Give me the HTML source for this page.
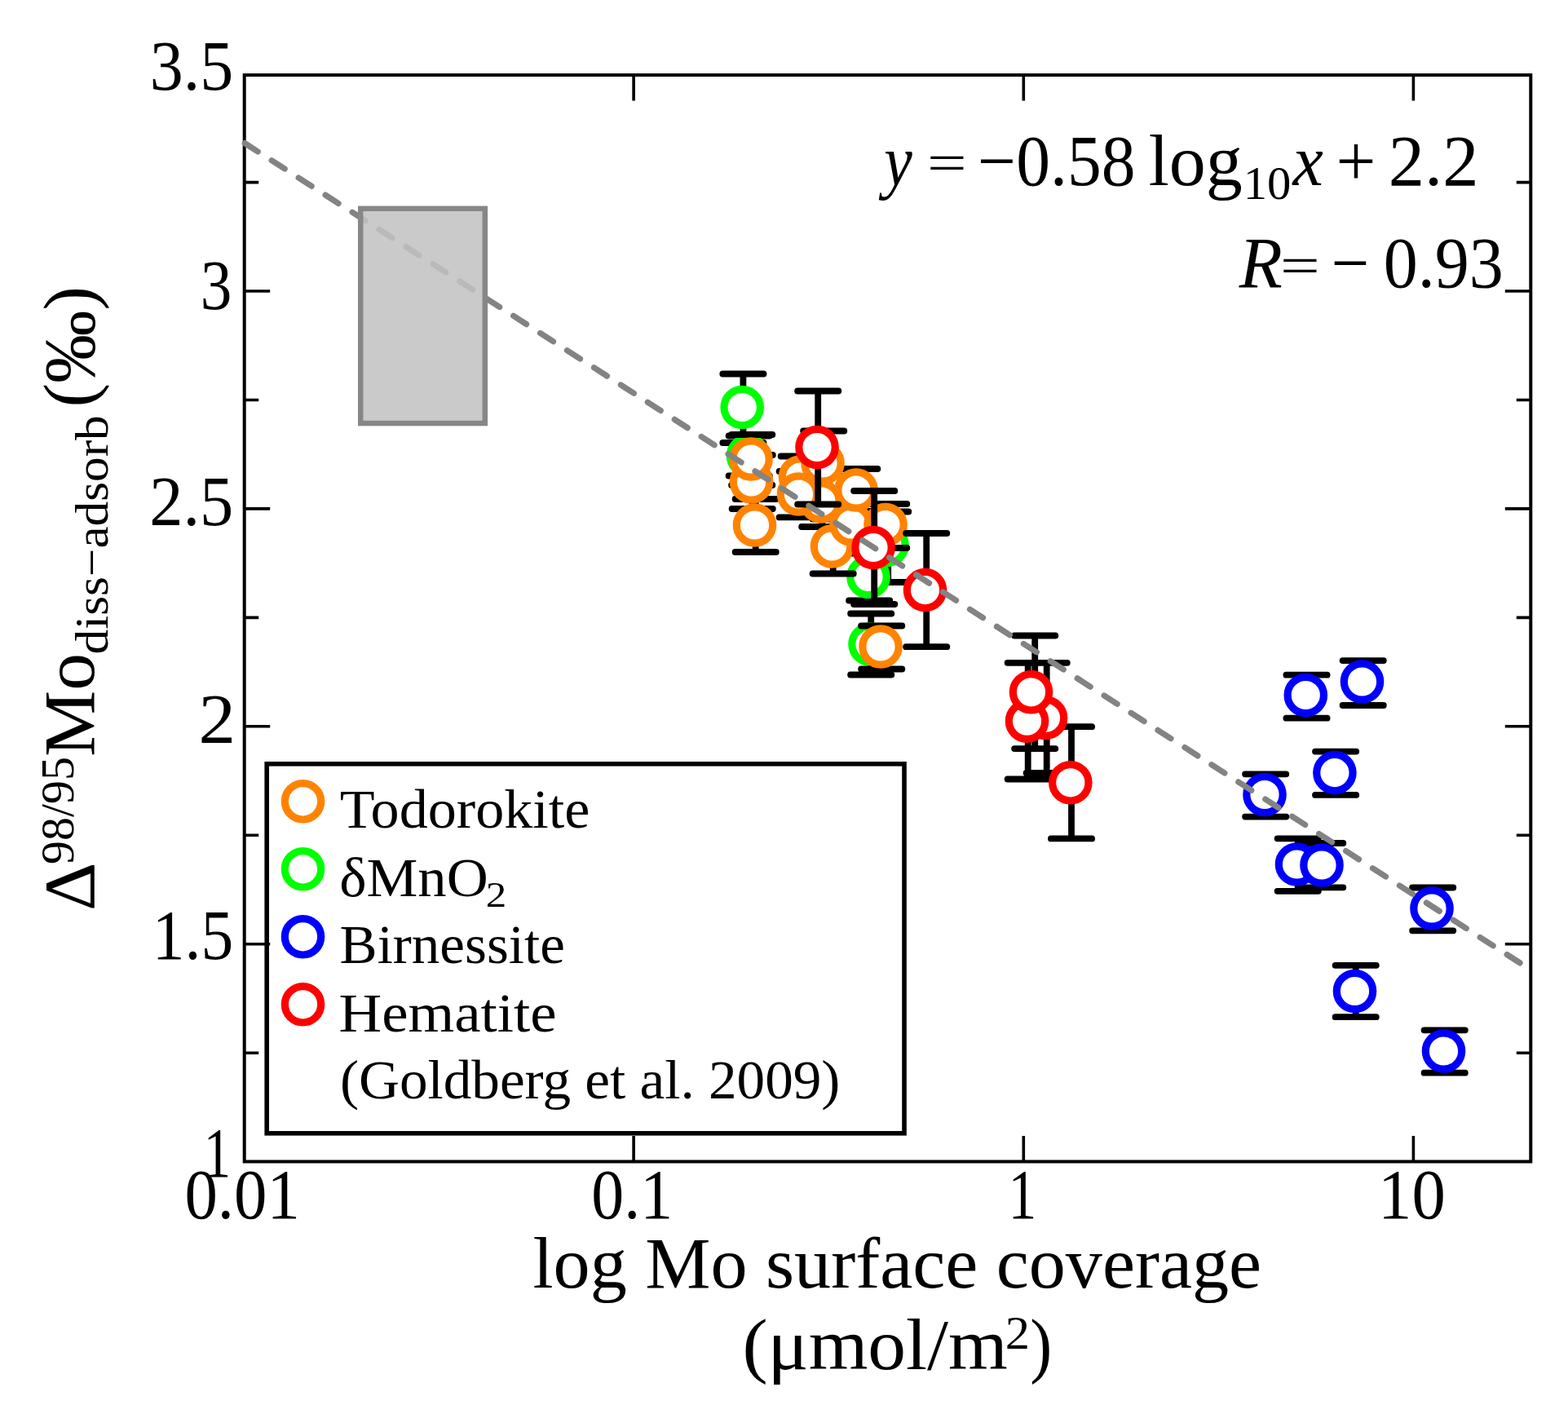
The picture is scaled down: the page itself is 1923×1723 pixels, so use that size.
<!DOCTYPE html>
<html><head><meta charset="utf-8"><title>Mo isotope fractionation vs surface coverage</title>
<style>html,body{margin:0;padding:0;background:#fff;width:1923px;height:1723px;overflow:hidden}svg{display:block}</style>
</head><body>
<svg width="1923" height="1723" viewBox="0 0 1923 1723">
<rect width="1923" height="1723" fill="#fff"/>
<path d="M299.7 1157.7H331.2M1877.3 1157.7H1845.8M299.7 890.8H331.2M1877.3 890.8H1845.8M299.7 623.9H331.2M1877.3 623.9H1845.8M299.7 357.0H331.2M1877.3 357.0H1845.8M299.7 1291.2H317.2M1877.3 1291.2H1859.8M299.7 1024.2H317.2M1877.3 1024.2H1859.8M299.7 757.4H317.2M1877.3 757.4H1859.8M299.7 490.5H317.2M1877.3 490.5H1859.8M299.7 223.6H317.2M1877.3 223.6H1859.8M777.1 1424.5V1393.0M777.1 92.0V123.5M1255.3 1424.5V1393.0M1255.3 92.0V123.5M1733.4 1424.5V1393.0M1733.4 92.0V123.5" stroke="#000" stroke-width="3.6" fill="none"/>
<rect x="299.7" y="92.0" width="1577.6" height="1332.5" fill="none" stroke="#000" stroke-width="4"/>
<rect x="327.2" y="936.8" width="781.8" height="453" fill="none" stroke="#000" stroke-width="5.6"/>
<g id="data">
<path d="M918.7 534.5V583.5M893.6 534.5H943.8M893.6 583.5H943.8M911.4 458.5V543.0M886.3 458.5H936.5M886.3 543.0H936.5M1089.2 627.5V714.0M1064.1 627.5H1114.3M1064.1 714.0H1114.3M1066.2 678.5V736.5M1041.1 678.5H1091.3M1041.1 736.5H1091.3M1068.2 752.5V827.5M1043.1 752.5H1093.3M1043.1 827.5H1093.3" stroke="#000" stroke-width="7.8" stroke-linecap="round" fill="none"/>
<circle cx="917.5" cy="559.0" r="22.2" fill="#fff" stroke="#00ff00" stroke-width="9.2"/>
<circle cx="910.2" cy="499.5" r="22.2" fill="#fff" stroke="#00ff00" stroke-width="9.2"/>
<circle cx="1088.0" cy="668.5" r="22.2" fill="#fff" stroke="#00ff00" stroke-width="9.2"/>
<circle cx="1065.0" cy="707.5" r="22.2" fill="#fff" stroke="#00ff00" stroke-width="9.2"/>
<circle cx="1067.0" cy="790.0" r="22.2" fill="#fff" stroke="#00ff00" stroke-width="9.2"/>
<path d="M1021.7 636.5V703.5M996.6 636.5H1046.8M996.6 703.5H1046.8M1045.2 618.0V668.0M1020.1 618.0H1070.3M1020.1 668.0H1070.3M1008.2 584.0V646.0M983.1 584.0H1033.3M983.1 646.0H1033.3M982.7 559.5V610.5M957.6 559.5H1007.8M957.6 610.5H1007.8M1010.2 528.5V608.0M985.1 528.5H1035.3M985.1 608.0H1035.3M980.7 578.0V634.4M955.6 578.0H1005.8M955.6 634.4H1005.8M1051.2 575.0V627.0M1026.1 575.0H1076.3M1026.1 627.0H1076.3M1087.2 618.0V672.0M1062.1 618.0H1112.3M1062.1 672.0H1112.3M922.7 558.0V624.0M897.6 558.0H947.8M897.6 624.0H947.8M922.2 533.0V595.0M897.1 533.0H947.3M897.1 595.0H947.3M926.7 612.0V677.0M901.6 612.0H951.8M901.6 677.0H951.8M1081.2 767.5V820.5M1056.1 767.5H1106.3M1056.1 820.5H1106.3" stroke="#000" stroke-width="7.8" stroke-linecap="round" fill="none"/>
<circle cx="1020.5" cy="670.0" r="22.2" fill="#fff" stroke="#ff8300" stroke-width="9.2"/>
<circle cx="1044.0" cy="643.0" r="22.2" fill="#fff" stroke="#ff8300" stroke-width="9.2"/>
<circle cx="1007.0" cy="615.0" r="22.2" fill="#fff" stroke="#ff8300" stroke-width="9.2"/>
<circle cx="981.5" cy="585.0" r="22.2" fill="#fff" stroke="#ff8300" stroke-width="9.2"/>
<circle cx="1009.0" cy="568.0" r="22.2" fill="#fff" stroke="#ff8300" stroke-width="9.2"/>
<circle cx="979.5" cy="606.0" r="22.2" fill="#fff" stroke="#ff8300" stroke-width="9.2"/>
<circle cx="1050.0" cy="601.0" r="22.2" fill="#fff" stroke="#ff8300" stroke-width="9.2"/>
<circle cx="1086.0" cy="643.5" r="22.2" fill="#fff" stroke="#ff8300" stroke-width="9.2"/>
<circle cx="921.5" cy="591.0" r="22.2" fill="#fff" stroke="#ff8300" stroke-width="9.2"/>
<circle cx="921.0" cy="563.0" r="22.2" fill="#fff" stroke="#ff8300" stroke-width="9.2"/>
<circle cx="925.5" cy="644.0" r="22.2" fill="#fff" stroke="#ff8300" stroke-width="9.2"/>
<circle cx="1080.0" cy="793.0" r="22.2" fill="#fff" stroke="#ff8300" stroke-width="9.2"/>
<path d="M1552.2 949.3V1001.6M1527.1 949.3H1577.3M1527.1 1001.6H1577.3M1602.5 827.7V880.7M1577.4 827.7H1627.6M1577.4 880.7H1627.6M1671.7 810.1V865.0M1646.6 810.1H1696.8M1646.6 865.0H1696.8M1638.1 921.6V974.9M1613.0 921.6H1663.2M1613.0 974.9H1663.2M1591.7 1028.3V1092.8M1566.6 1028.3H1616.8M1566.6 1092.8H1616.8M1622.2 1034.0V1088.3M1597.1 1034.0H1647.3M1597.1 1088.3H1647.3M1662.7 1183.8V1247.2M1637.6 1183.8H1687.8M1637.6 1247.2H1687.8M1757.2 1088.5V1141.3M1732.1 1088.5H1782.3M1732.1 1141.3H1782.3M1771.7 1263.3V1315.7M1746.6 1263.3H1796.8M1746.6 1315.7H1796.8" stroke="#000" stroke-width="7.8" stroke-linecap="round" fill="none"/>
<circle cx="1551.0" cy="974.5" r="22.2" fill="#fff" stroke="#0000ff" stroke-width="9.2"/>
<circle cx="1601.3" cy="852.5" r="22.2" fill="#fff" stroke="#0000ff" stroke-width="9.2"/>
<circle cx="1670.5" cy="836.0" r="22.2" fill="#fff" stroke="#0000ff" stroke-width="9.2"/>
<circle cx="1636.9" cy="947.6" r="22.2" fill="#fff" stroke="#0000ff" stroke-width="9.2"/>
<circle cx="1590.5" cy="1060.0" r="22.2" fill="#fff" stroke="#0000ff" stroke-width="9.2"/>
<circle cx="1621.0" cy="1061.0" r="22.2" fill="#fff" stroke="#0000ff" stroke-width="9.2"/>
<circle cx="1661.5" cy="1215.5" r="22.2" fill="#fff" stroke="#0000ff" stroke-width="9.2"/>
<circle cx="1756.0" cy="1114.0" r="22.2" fill="#fff" stroke="#0000ff" stroke-width="9.2"/>
<circle cx="1770.5" cy="1289.0" r="22.2" fill="#fff" stroke="#0000ff" stroke-width="9.2"/>
<path d="M1003.2 479.5V618.5M978.1 479.5H1028.3M978.1 618.5H1028.3M1072.2 602.0V741.0M1047.1 602.0H1097.3M1047.1 741.0H1097.3M1136.2 654.0V793.2M1111.1 654.0H1161.3M1111.1 793.2H1161.3M1314.0 891.2V1028.4M1288.9 891.2H1339.1M1288.9 1028.4H1339.1M1283.7 812.8V948.0M1258.6 812.8H1308.8M1258.6 948.0H1308.8M1260.7 812.8V955.5M1235.6 812.8H1285.8M1235.6 955.5H1285.8M1269.2 779.5V918.1M1244.1 779.5H1294.3M1244.1 918.1H1294.3" stroke="#000" stroke-width="7.8" stroke-linecap="round" fill="none"/>
<circle cx="1002.0" cy="548.5" r="22.2" fill="#fff" stroke="#ff0000" stroke-width="9.2"/>
<circle cx="1071.0" cy="671.5" r="22.2" fill="#fff" stroke="#ff0000" stroke-width="9.2"/>
<circle cx="1134.5" cy="723.6" r="22.2" fill="#fff" stroke="#ff0000" stroke-width="9.2"/>
<circle cx="1312.8" cy="959.8" r="22.2" fill="#fff" stroke="#ff0000" stroke-width="9.2"/>
<circle cx="1282.5" cy="880.4" r="22.2" fill="#fff" stroke="#ff0000" stroke-width="9.2"/>
<circle cx="1259.5" cy="884.2" r="22.2" fill="#fff" stroke="#ff0000" stroke-width="9.2"/>
<circle cx="1264.5" cy="848.8" r="22.2" fill="#fff" stroke="#ff0000" stroke-width="9.2"/>
</g>
<line x1="296.5" y1="173.2" x2="1880" y2="1191.1" stroke="#838383" stroke-width="7.2" stroke-linecap="round" stroke-dasharray="19 20.15" stroke-dashoffset="-4.5"/>
<rect x="442.2" y="255.8" width="152.6" height="263.3" fill="rgb(194,194,194)" fill-opacity="0.87" stroke="#878787" stroke-width="6.5"/>
<g id="legendmarks" fill="#fff" stroke-width="9.2">
<circle cx="371.5" cy="982.8" r="22.2" stroke="#ff8300"/>
<circle cx="371.5" cy="1065.8" r="22.2" stroke="#00ff00"/>
<circle cx="371.5" cy="1148.8" r="22.2" stroke="#0000ff"/>
<circle cx="371.5" cy="1231.8" r="22.2" stroke="#ff0000"/>
</g>
<g font-family="'Liberation Serif', serif" fill="#000">
<text x="183.73" y="110.40" font-size="87" textLength="102.50" lengthAdjust="spacingAndGlyphs">3.5</text>
<text x="245.74" y="378.60" font-size="87" textLength="38.67" lengthAdjust="spacingAndGlyphs">3</text>
<text x="183.21" y="644.20" font-size="87" textLength="103.04" lengthAdjust="spacingAndGlyphs">2.5</text>
<text x="243.62" y="911.10" font-size="87" textLength="45.49" lengthAdjust="spacingAndGlyphs">2</text>
<text x="186.79" y="1176.10" font-size="87" textLength="99.33" lengthAdjust="spacingAndGlyphs">1.5</text>
<text x="249.87" y="1443.40" font-size="87" textLength="33.35" lengthAdjust="spacingAndGlyphs">1</text>
<text x="226.41" y="1494.00" font-size="87" textLength="141.47" lengthAdjust="spacingAndGlyphs">0.01</text>
<text x="725.25" y="1494.00" font-size="87" textLength="99.81" lengthAdjust="spacingAndGlyphs">0.1</text>
<text x="1236.40" y="1494.00" font-size="87" textLength="34.80" lengthAdjust="spacingAndGlyphs">1</text>
<text x="1690.09" y="1494.00" font-size="87" textLength="82.76" lengthAdjust="spacingAndGlyphs">10</text>
<text x="653.57" y="1579.20" font-size="89" textLength="893.45" lengthAdjust="spacingAndGlyphs">log Mo surface coverage</text>
<text x="910.40" y="1678.60" font-size="89" textLength="325.36" lengthAdjust="spacingAndGlyphs">(μmol/m</text>
<text x="1232.82" y="1654.00" font-size="58" textLength="30.21" lengthAdjust="spacingAndGlyphs">2</text>
<text x="1263.27" y="1678.60" font-size="89" textLength="26.93" lengthAdjust="spacingAndGlyphs">)</text>
<text x="1084.18" y="226.50" font-size="88" font-style="italic" textLength="34.48" lengthAdjust="spacingAndGlyphs">y</text>
<text x="1137.08" y="221.80" font-size="66" textLength="48.64" lengthAdjust="spacingAndGlyphs">=</text>
<text x="1199.10" y="226.50" font-size="88" textLength="193.35" lengthAdjust="spacingAndGlyphs">−0.58</text>
<text x="1408.86" y="226.50" font-size="88" textLength="114.93" lengthAdjust="spacingAndGlyphs">log</text>
<text x="1524.77" y="243.50" font-size="56" textLength="58.63" lengthAdjust="spacingAndGlyphs">10</text>
<text x="1585.45" y="226.50" font-size="88" font-style="italic" textLength="37.26" lengthAdjust="spacingAndGlyphs">x</text>
<text x="1638.46" y="226.50" font-size="88" textLength="48.91" lengthAdjust="spacingAndGlyphs">+</text>
<text x="1702.78" y="226.50" font-size="88" textLength="110.65" lengthAdjust="spacingAndGlyphs">2.2</text>
<text x="1519.80" y="352.10" font-size="88" font-style="italic" textLength="53.04" lengthAdjust="spacingAndGlyphs">R</text>
<text x="1570.07" y="347.60" font-size="66" textLength="48.77" lengthAdjust="spacingAndGlyphs">=</text>
<text x="1632.63" y="352.10" font-size="88" textLength="46.73" lengthAdjust="spacingAndGlyphs">−</text>
<text x="1696.73" y="352.10" font-size="88" textLength="147.13" lengthAdjust="spacingAndGlyphs">0.93</text>
<text x="416.67" y="1015.40" font-size="68" textLength="306.81" lengthAdjust="spacingAndGlyphs">Todorokite</text>
<text x="416.28" y="1099.40" font-size="68" textLength="182.44" lengthAdjust="spacingAndGlyphs">δMnO</text>
<text x="595.73" y="1111.50" font-size="45" textLength="25.50" lengthAdjust="spacingAndGlyphs">2</text>
<text x="416.57" y="1181.30" font-size="68" textLength="276.23" lengthAdjust="spacingAndGlyphs">Birnessite</text>
<text x="415.56" y="1265.30" font-size="68" textLength="267.04" lengthAdjust="spacingAndGlyphs">Hematite</text>
<text x="416.95" y="1346.60" font-size="68" textLength="613.45" lengthAdjust="spacingAndGlyphs">(Goldberg et al. 2009)</text>
<text transform="translate(114.60,0) rotate(-90)" x="-1117.12" y="0" font-size="89" textLength="59.48" lengthAdjust="spacingAndGlyphs">Δ</text>
<text transform="translate(90.30,0) rotate(-90)" x="-1060.00" y="0" font-size="58" textLength="132.12" lengthAdjust="spacingAndGlyphs">98/95</text>
<text transform="translate(114.60,0) rotate(-90)" x="-928.05" y="0" font-size="89" textLength="126.89" lengthAdjust="spacingAndGlyphs">Mo</text>
<text transform="translate(131.60,0) rotate(-90)" x="-802.51" y="0" font-size="58" textLength="293.27" lengthAdjust="spacingAndGlyphs">diss−adsorb</text>
<text transform="translate(114.60,0) rotate(-90)" x="-499.51" y="0" font-size="89" textLength="148.49" lengthAdjust="spacingAndGlyphs">(‰)</text>
</g>
</svg>
</body></html>
